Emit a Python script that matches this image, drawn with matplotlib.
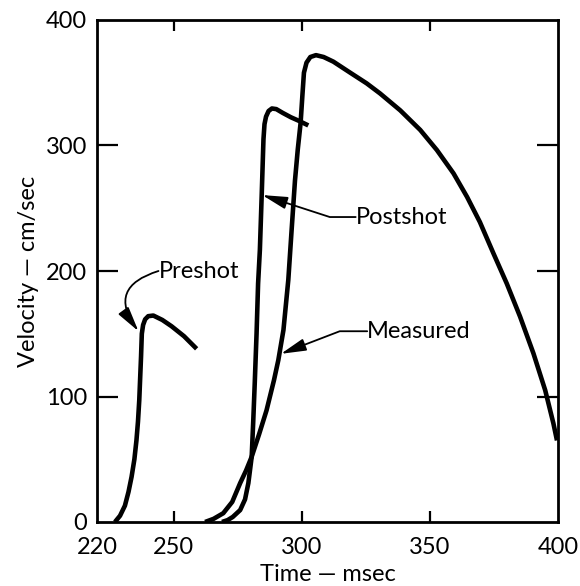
import matplotlib
matplotlib.use("Agg")
import matplotlib.pyplot as plt

# curves (time in msec, velocity in cm/sec)
pre_t = [227.0, 229.0, 230.9, 232.3, 233.5, 234.6, 235.4, 236.0, 236.5, 237.2, 237.5, 238.0, 238.8, 240.0, 242.0, 245.5, 249.1, 254.0, 258.9]
pre_v = [0, 5, 13, 24, 36, 50, 65, 80, 97, 132, 150, 157, 161.5, 164, 164.5, 161, 156, 148, 138]

post_t = [268.8, 271.0, 273.0, 275.9, 277.8, 279.1, 280.4, 281.0, 281.6, 282.3, 282.9, 283.6, 284.3, 285.0, 285.4,
          286.0, 287.0, 288.3, 290.0, 292.5, 295.7, 299.0, 302.5]
post_v = [0, 1.5, 4, 9.5, 18, 31, 52, 80, 111, 150, 190, 217, 260, 305, 317,
          323, 327.5, 329.5, 329, 326, 322.5, 319.5, 316]

meas_t = [262.2, 265.5, 269.3, 272.8, 275.9, 278.2, 280.4, 283.3, 286.2, 289.1, 290.8, 292.8, 294.7, 296.0, 297.3,
          298.4, 299.5, 300.2, 300.8, 301.8, 303.3, 305.5, 308.5, 312.3, 318.5, 325.3, 330.5, 338.4, 346.2, 352.7,
          359.2, 364.5, 369.5, 374.8, 380.0, 385.2, 390.4, 395.0, 398.2, 399.6]
meas_v = [0, 2.5, 7, 16, 31, 41, 52, 70, 89, 113, 129, 153, 193, 233, 272,
          297, 318, 340, 358, 366, 370.5, 372, 370.5, 366.8, 358.5, 349.5, 341.5, 328, 312.4, 296.4,
          277.8, 259, 239, 214, 190, 163.6, 134.4, 105, 78.6, 65]

xticks = [220, 250, 300, 350, 400]
yticks = [0, 100, 200, 300, 400]

plt.rcParams['font.family'] = ['Lato', 'DejaVu Sans']
FS = 17

fig = plt.figure(figsize=(5.8, 5.86), dpi=100)
ax = fig.add_axes([97 / 580, (586 - 522) / 586, (558 - 97) / 580, (522 - 20) / 586])

for t, v in [(pre_t, pre_v), (post_t, post_v), (meas_t, meas_v)]:
    ax.plot(t, v, color='black', lw=3.3, solid_capstyle='butt', solid_joinstyle='round')

ax.set_xlim(220, 400)
ax.set_ylim(0, 400)
ax.set_xticks(xticks)
ax.set_yticks(yticks)
ax.tick_params(axis='both', direction='in', top=True, right=True, width=1.6, labelsize=FS)
ax.tick_params(axis='x', length=8, pad=11)
ax.tick_params(axis='y', length=15, pad=7)
# hide the ticks that fall on the frame
for tk in ax.xaxis.get_major_ticks()[::4] + ax.yaxis.get_major_ticks()[::4]:
    tk.tick1line.set_visible(False)
    tk.tick2line.set_visible(False)
for sp in ax.spines.values():
    sp.set_linewidth(2.0)

ax.set_xlabel('Time — msec', fontsize=FS, labelpad=4)
ax.set_ylabel('Velocity — cm/sec', fontsize=FS, labelpad=5)

arr = dict(arrowstyle='-|>,head_length=0.9,head_width=0.22', color='black', lw=1.3,
           shrinkA=0, shrinkB=0, patchA=None, relpos=(0, 0.5))
ax.annotate('Preshot', xy=(236.2, 152), xytext=(244.0, 200), ha='left', va='center', fontsize=FS,
            arrowprops=dict(arr, connectionstyle='arc3,rad=0.7'))
ax.annotate('Postshot', xy=(284.5, 260.5), xytext=(321.0, 243), ha='left', va='center', fontsize=FS,
            arrowprops=dict(arr, connectionstyle='angle,angleA=0,angleB=-18,rad=0'))
ax.annotate('Measured', xy=(291.8, 134), xytext=(325.5, 152), ha='left', va='center', fontsize=FS,
            arrowprops=dict(arr, connectionstyle='angle,angleA=0,angleB=21,rad=0'))

fig.savefig('out.png', dpi=100)
